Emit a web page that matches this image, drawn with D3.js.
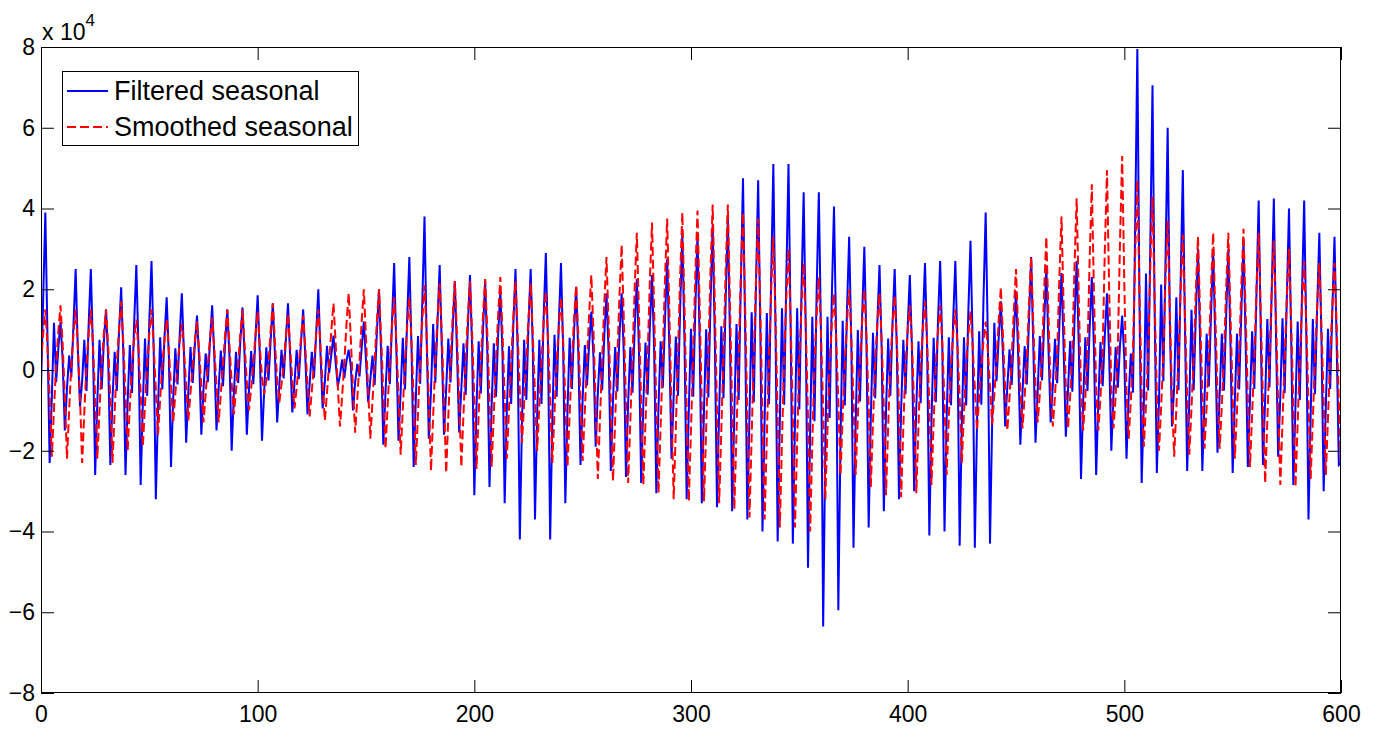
<!DOCTYPE html>
<html><head><meta charset="utf-8">
<script src="https://cdn.jsdelivr.net/npm/d3@7"></script>
<style>body{margin:0;background:#fff;}svg{display:block;font-family:"Liberation Sans",Arial,sans-serif;}</style>
</head><body>
<svg id="chart" width="1376" height="736"></svg>
<script>
// values in units of 1e4, one entry per sample (t = 0..600)
const filteredSeasonal = [
-0.46,1.76,3.9,0.78,-2.3,-0.69,1.17,
-0.3,0.54,1.2,0.24,-1.5,-0.45,0.36,
-0.18,1.13,2.5,0.5,-0.9,-0.27,0.75,
-0.52,1.13,2.5,0.5,-2.6,-0.78,0.75,
-0.47,0.68,1.5,0.3,-2.35,-0.71,0.45,
-0.52,0.92,2.05,0.41,-2.6,-0.78,0.62,
-0.57,1.17,2.6,0.52,-2.85,-0.86,0.78,
-0.64,1.22,2.7,0.54,-3.2,-0.96,0.81,
-0.48,0.81,1.8,0.36,-2.4,-0.72,0.54,
-0.36,0.86,1.9,0.38,-1.8,-0.54,0.57,
-0.32,0.61,1.35,0.27,-1.6,-0.48,0.41,
-0.3,0.72,1.6,0.32,-1.5,-0.45,0.48,
-0.4,0.68,1.5,0.3,-2.0,-0.6,0.45,
-0.32,0.7,1.55,0.31,-1.6,-0.48,0.47,
-0.35,0.83,1.85,0.37,-1.75,-0.53,0.56,
-0.26,0.74,1.65,0.33,-1.3,-0.39,0.5,
-0.21,0.74,1.65,0.33,-1.05,-0.32,0.5,
-0.22,0.68,1.5,0.3,-1.1,-0.33,0.45,
-0.19,0.9,2.0,0.4,-0.95,-0.29,0.6,
-0.08,0.38,0.85,0.17,-0.4,-0.12,0.26,
-0.2,0.23,0.5,0.1,-1.0,-0.3,0.15,
-0.16,0.54,1.2,0.24,-0.8,-0.24,0.36,
-0.37,0.9,2.0,0.4,-1.85,-0.56,0.6,
-0.35,1.19,2.65,0.53,-1.75,-0.53,0.8,
-0.48,1.26,2.8,0.56,-2.4,-0.72,0.84,
-0.34,1.71,3.8,0.76,-1.7,-0.51,1.14,
-0.32,1.17,2.6,0.52,-1.6,-0.48,0.78,
-0.31,0.99,2.2,0.44,-1.55,-0.47,0.66,
-0.62,1.06,2.35,0.47,-3.1,-0.93,0.71,
-0.58,0.99,2.2,0.44,-2.9,-0.87,0.66,
-0.66,0.88,1.95,0.39,-3.3,-0.99,0.59,
-0.84,1.13,2.5,0.5,-4.2,-1.26,0.75,
-0.74,1.13,2.5,0.5,-3.7,-1.11,0.75,
-0.84,1.31,2.9,0.58,-4.2,-1.26,0.87,
-0.66,1.19,2.65,0.53,-3.3,-0.99,0.8,
-0.47,0.92,2.05,0.41,-2.35,-0.71,0.62,
-0.38,0.65,1.45,0.29,-1.9,-0.57,0.44,
-0.5,0.86,1.9,0.38,-2.5,-0.75,0.57,
-0.53,0.86,1.9,0.38,-2.65,-0.8,0.57,
-0.56,1.01,2.25,0.45,-2.8,-0.84,0.68,
-0.61,1.06,2.35,0.47,-3.05,-0.92,0.71,
-0.44,1.24,2.75,0.55,-2.2,-0.66,0.83,
-0.64,1.53,3.4,0.68,-3.2,-0.96,1.02,
-0.66,1.51,3.35,0.67,-3.3,-0.99,1.01,
-0.68,1.62,3.6,0.72,-3.4,-1.02,1.08,
-0.7,1.71,3.8,0.76,-3.5,-1.05,1.14,
-0.74,2.14,4.75,0.95,-3.7,-1.11,1.43,
-0.8,2.12,4.7,0.94,-4.0,-1.2,1.41,
-0.85,2.3,5.1,1.02,-4.25,-1.28,1.53,
-0.86,2.3,5.1,1.02,-4.3,-1.29,1.53,
-0.98,1.98,4.4,0.88,-4.9,-1.47,1.32,
-1.27,1.98,4.4,0.88,-6.35,-1.91,1.32,
-1.19,1.82,4.05,0.81,-5.95,-1.79,1.22,
-0.88,1.49,3.3,0.66,-4.4,-1.32,0.99,
-0.78,1.37,3.05,0.61,-3.9,-1.17,0.92,
-0.7,1.17,2.6,0.52,-3.5,-1.05,0.78,
-0.64,1.13,2.5,0.5,-3.2,-0.96,0.75,
-0.6,1.06,2.35,0.47,-3.0,-0.9,0.71,
-0.82,1.19,2.65,0.53,-4.1,-1.23,0.8,
-0.8,1.22,2.7,0.54,-4.0,-1.2,0.81,
-0.87,1.22,2.7,0.54,-4.35,-1.31,0.81,
-0.88,1.44,3.2,0.64,-4.4,-1.32,0.96,
-0.86,1.76,3.9,0.78,-4.3,-1.29,1.17,
-0.28,0.77,1.7,0.34,-1.4,-0.42,0.51,
-0.37,0.88,1.95,0.39,-1.85,-0.56,0.59,
-0.36,1.26,2.8,0.56,-1.8,-0.54,0.84,
-0.26,1.15,2.55,0.51,-1.3,-0.39,0.77,
-0.33,1.08,2.4,0.48,-1.65,-0.5,0.72,
-0.54,1.22,2.7,0.54,-2.7,-0.81,0.81,
-0.52,1.04,2.3,0.46,-2.6,-0.78,0.69,
-0.4,0.86,1.9,0.38,-2.0,-0.6,0.57,
-0.44,0.61,1.35,0.27,-2.2,-0.66,0.41,
-0.56,3.58,7.95,1.59,-2.8,-0.84,2.39,
-0.51,3.17,7.05,1.41,-2.55,-0.77,2.12,
-0.28,2.7,6.0,1.2,-1.4,-0.42,1.8,
-0.5,2.23,4.95,0.99,-2.5,-0.75,1.49,
-0.5,1.35,3.0,0.6,-2.5,-0.75,0.9,
-0.41,1.35,3.0,0.6,-2.05,-0.62,0.9,
-0.51,1.35,3.0,0.6,-2.55,-0.77,0.9,
-0.48,1.44,3.2,0.64,-2.4,-0.72,0.96,
-0.47,1.89,4.2,0.84,-2.35,-0.71,1.26,
-0.43,1.91,4.25,0.85,-2.15,-0.65,1.28,
-0.57,1.8,4.0,0.8,-2.85,-0.86,1.2,
-0.74,1.89,4.2,0.84,-3.7,-1.11,1.26,
-0.6,1.53,3.4,0.68,-3.0,-0.9,1.02,
-0.47,1.49,3.3,0.66,-2.35,-2.3
];
const smoothedSeasonal = [
0.15,0.9,1.5,0.6,-0.65,-2.15,-0.97,
0.16,0.96,1.6,0.64,-0.66,-2.2,-0.99,
0.15,0.9,1.5,0.6,-0.69,-2.3,-1.04,
0.15,0.9,1.5,0.6,-0.66,-2.2,-0.99,
0.15,0.9,1.5,0.6,-0.69,-2.3,-1.04,
0.17,1.02,1.7,0.68,-0.6,-2.0,-0.9,
0.13,0.75,1.25,0.5,-0.57,-1.9,-0.86,
0.15,0.9,1.5,0.6,-0.48,-1.6,-0.72,
0.13,0.75,1.25,0.5,-0.39,-1.3,-0.59,
0.12,0.69,1.15,0.46,-0.38,-1.25,-0.56,
0.12,0.72,1.2,0.48,-0.39,-1.3,-0.59,
0.13,0.78,1.3,0.52,-0.39,-1.3,-0.59,
0.15,0.9,1.5,0.6,-0.33,-1.1,-0.5,
0.15,0.9,1.5,0.6,-0.3,-1.0,-0.45,
0.15,0.87,1.45,0.58,-0.18,-0.6,-0.27,
0.17,0.99,1.65,0.66,-0.24,-0.8,-0.36,
0.14,0.84,1.4,0.56,-0.29,-0.95,-0.43,
0.14,0.81,1.35,0.54,-0.35,-1.15,-0.52,
0.15,0.9,1.5,0.6,-0.38,-1.25,-0.56,
0.17,0.99,1.65,0.66,-0.42,-1.4,-0.63,
0.19,1.14,1.9,0.76,-0.47,-1.55,-0.7,
0.2,1.2,2.0,0.8,-0.51,-1.7,-0.77,
0.2,1.2,2.0,0.8,-0.59,-1.95,-0.88,
0.18,1.08,1.8,0.72,-0.63,-2.1,-0.95,
0.18,1.08,1.8,0.72,-0.71,-2.35,-1.06,
0.21,1.26,2.1,0.84,-0.75,-2.5,-1.13,
0.22,1.29,2.15,0.86,-0.77,-2.55,-1.15,
0.22,1.32,2.2,0.88,-0.72,-2.4,-1.08,
0.22,1.32,2.2,0.88,-0.74,-2.45,-1.1,
0.23,1.35,2.25,0.9,-0.72,-2.4,-1.08,
0.23,1.38,2.3,0.92,-0.66,-2.2,-0.99,
0.22,1.32,2.2,0.88,-0.54,-1.8,-0.81,
0.22,1.29,2.15,0.86,-0.6,-2.0,-0.9,
0.2,1.17,1.95,0.78,-0.69,-2.3,-1.04,
0.18,1.08,1.8,0.72,-0.72,-2.4,-1.08,
0.21,1.26,2.1,0.84,-0.68,-2.25,-1.01,
0.24,1.41,2.35,0.94,-0.81,-2.7,-1.22,
0.28,1.68,2.8,1.12,-0.83,-2.75,-1.24,
0.31,1.86,3.1,1.24,-0.84,-2.8,-1.26,
0.34,2.04,3.4,1.36,-0.86,-2.85,-1.28,
0.37,2.19,3.65,1.46,-0.92,-3.05,-1.37,
0.38,2.25,3.75,1.5,-0.96,-3.2,-1.44,
0.39,2.34,3.9,1.56,-0.98,-3.25,-1.46,
0.4,2.37,3.95,1.58,-0.98,-3.25,-1.46,
0.41,2.46,4.1,1.64,-0.99,-3.3,-1.49,
0.41,2.46,4.1,1.64,-1.04,-3.45,-1.55,
0.39,2.34,3.9,1.56,-1.1,-3.65,-1.64,
0.38,2.25,3.75,1.5,-1.11,-3.7,-1.67,
0.33,1.98,3.3,1.32,-1.17,-3.9,-1.76,
0.3,1.8,3.0,1.2,-1.17,-3.9,-1.76,
0.27,1.59,2.65,1.06,-1.2,-4.0,-1.8,
0.23,1.38,2.3,0.92,-0.96,-3.2,-1.44,
0.19,1.14,1.9,0.76,-0.78,-2.6,-1.17,
0.2,1.2,2.0,0.8,-0.78,-2.6,-1.17,
0.2,1.2,2.0,0.8,-0.87,-2.9,-1.31,
0.19,1.14,1.9,0.76,-0.93,-3.1,-1.4,
0.19,1.11,1.85,0.74,-0.95,-3.15,-1.42,
0.16,0.96,1.6,0.64,-0.92,-3.05,-1.37,
0.17,1.02,1.7,0.68,-0.86,-2.85,-1.28,
0.16,0.96,1.6,0.64,-0.78,-2.6,-1.17,
0.15,0.9,1.5,0.6,-0.69,-2.3,-1.04,
0.15,0.87,1.45,0.58,-0.45,-1.5,-0.68,
0.12,0.72,1.2,0.48,-0.41,-1.35,-0.61,
0.21,1.23,2.05,0.82,-0.45,-1.5,-0.68,
0.25,1.5,2.5,1.0,-0.44,-1.45,-0.65,
0.28,1.68,2.8,1.12,-0.39,-1.3,-0.59,
0.33,1.98,3.3,1.32,-0.42,-1.4,-0.63,
0.38,2.28,3.8,1.52,-0.44,-1.45,-0.65,
0.43,2.55,4.25,1.7,-0.45,-1.5,-0.68,
0.46,2.76,4.6,1.84,-0.45,-1.5,-0.68,
0.5,2.97,4.95,1.98,-0.44,-1.45,-0.65,
0.53,3.18,5.3,2.12,-0.51,-1.7,-0.77,
0.47,2.82,4.7,1.88,-0.57,-1.9,-0.86,
0.43,2.58,4.3,1.72,-0.6,-2.0,-0.9,
0.37,2.22,3.7,1.48,-0.65,-2.15,-0.97,
0.34,2.01,3.35,1.34,-0.63,-2.1,-0.95,
0.33,1.98,3.3,1.32,-0.59,-1.95,-0.88,
0.34,2.04,3.4,1.36,-0.59,-1.95,-0.88,
0.34,2.04,3.4,1.36,-0.66,-2.2,-0.99,
0.35,2.1,3.5,1.4,-0.72,-2.4,-1.08,
0.34,2.04,3.4,1.36,-0.84,-2.8,-1.26,
0.32,1.92,3.2,1.28,-0.86,-2.85,-1.28,
0.3,1.8,3.0,1.2,-0.87,-2.9,-1.31,
0.27,1.62,2.7,1.08,-0.81,-2.7,-1.22,
0.27,1.59,2.65,1.06,-0.78,-2.6,-1.17,
0.27,1.59,2.65,1.06,-0.78,-2.5
];
const xTicks = [0, 100, 200, 300, 400, 500, 600];
const yTicks = [-8, -6, -4, -2, 0, 2, 4, 6, 8];
const seriesNames = ["Filtered seasonal", "Smoothed seasonal"];
const seriesColors = ["#0000ff", "#ff0000"];

const PL = 41, PR = 1341, PT = 47, PB = 693;
const svg = d3.select("#chart");
const x = d3.scaleLinear().domain([0, 600]).range([PL, PR]);
const y = d3.scaleLinear().domain([-8, 8]).range([PB, PT]);

svg.append("defs").append("clipPath").attr("id", "clip")
  .append("rect").attr("x", PL).attr("y", PT).attr("width", PR - PL).attr("height", PB - PT);

const lineGen = d3.line().x((d, i) => x(i)).y(d => y(d));
const plot = svg.append("g").attr("clip-path", "url(#clip)");
plot.append("path").datum(filteredSeasonal).attr("d", lineGen)
  .attr("fill", "none").attr("stroke", seriesColors[0]).attr("stroke-width", 2);
plot.append("path").datum(smoothedSeasonal).attr("d", lineGen)
  .attr("fill", "none").attr("stroke", seriesColors[1]).attr("stroke-width", 2).attr("stroke-dasharray", "9,4");

// axes (MATLAB style box with inward ticks on all sides)
const tickLen = 13;
const fs = 23;
const axB = d3.axisBottom(x).tickValues(xTicks).tickSizeInner(-tickLen).tickSizeOuter(0).tickPadding(10);
const axT = d3.axisTop(x).tickValues(xTicks).tickSizeInner(-tickLen).tickSizeOuter(0).tickFormat("");
const axL = d3.axisLeft(y).tickValues(yTicks).tickSizeInner(-tickLen).tickSizeOuter(0);
const axR = d3.axisRight(y).tickValues(yTicks).tickSizeInner(-tickLen).tickSizeOuter(0).tickFormat("");
function styleAxis(g) {
  g.selectAll("path.domain").remove();
  g.selectAll("line").attr("stroke", "#000").attr("stroke-width", 1);
  g.selectAll("text").attr("fill", "#000").style("font-size", fs + "px")
    .style("font-family", '"Liberation Sans", Arial, sans-serif');
}
svg.append("g").attr("transform", `translate(0,${PB})`).call(axB).call(styleAxis)
  .selectAll("text").attr("dy", "0.71em").attr("y", 13);
svg.append("g").attr("transform", `translate(0,${PT})`).call(axT).call(styleAxis);
svg.append("g").attr("transform", `translate(${PL},0)`).call(axL).call(styleAxis)
  .selectAll("text").attr("x", -6);
svg.append("g").attr("transform", `translate(${PR},0)`).call(axR).call(styleAxis);
svg.append("rect").attr("x", PL + 0.5).attr("y", PT + 0.5).attr("width", PR - PL - 1).attr("height", PB - PT - 1)
  .attr("fill", "none").attr("stroke", "#000").attr("stroke-width", 1);

// exponent label
const ex = svg.append("text").attr("x", 42).attr("y", 40).style("font-size", fs + "px").attr("fill", "#000");
ex.append("tspan").text("x 10");
ex.append("tspan").attr("dy", -14).style("font-size", "17px").text("4");

// legend
const lg = svg.append("g");
lg.append("rect").attr("x", 62.5).attr("y", 71.5).attr("width", 296).attr("height", 74)
  .attr("fill", "#fff").attr("stroke", "#000").attr("stroke-width", 1);
seriesNames.forEach((n, i) => {
  const yy = 91 + i * 36;
  const ln = lg.append("line").attr("x1", 67).attr("x2", 108).attr("y1", yy).attr("y2", yy)
    .attr("stroke", seriesColors[i]).attr("stroke-width", 2);
  if (i === 1) ln.attr("stroke-dasharray", "9,4");
  lg.append("text").attr("x", 114).attr("y", yy).attr("dy", "0.35em")
    .style("font-size", "27px").attr("fill", "#000").text(n);
});
</script>
</body></html>
